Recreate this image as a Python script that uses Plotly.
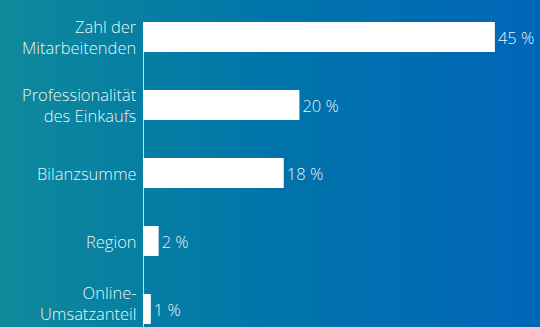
import base64, struct, zlib
import plotly.graph_objects as go

categories = ["Zahl der<br>Mitarbeitenden", "Professionalität<br>des Einkaufs", "Bilanzsumme", "Region", "Online-<br>Umsatzanteil"]
values = [45, 20, 18, 2, 1]
labels = ["45 %", "20 %", "18 %", "2 %", "1 %"]

W, H = 540, 327
L = 143

# gradient background image (style only)
stops = [(0.0, (14, 138, 155)), (0.5, (0, 116, 170)), (1.0, (0, 102, 184))]
def col(t):
    for (t0, c0), (t1, c1) in zip(stops, stops[1:]):
        if t <= t1:
            f = (t - t0) / (t1 - t0)
            return tuple(round(a + (b - a) * f) for a, b in zip(c0, c1))
    return stops[-1][1]
row = b"\x00" + b"".join(bytes(col(i / (W - 1))) for i in range(W))
def chunk(tag, data):
    return struct.pack(">I", len(data)) + tag + data + struct.pack(">I", zlib.crc32(tag + data) & 0xffffffff)
png = b"\x89PNG\r\n\x1a\n" + chunk(b"IHDR", struct.pack(">IIBBBBB", W, 1, 8, 2, 0, 0, 0)) + chunk(b"IDAT", zlib.compress(row)) + chunk(b"IEND", b"")
uri = "data:image/png;base64," + base64.b64encode(png).decode()

pw = W - L
px_per = 7.82
xmax = pw / px_per
ystep = 68
top = -37 / ystep
bottom = top + H / ystep

font = dict(family="Open Sans", size=16.5, color="rgba(255,255,255,0.95)", weight=300)

ypos = list(range(len(categories)))
fig = go.Figure(go.Bar(
    x=values, y=ypos, orientation="h",
    marker=dict(color="white", line=dict(width=0)), width=0.44,
    text=labels, textposition="outside", textfont=font, cliponaxis=False,
))

annotations = [dict(x=0, y=i, xref="x", yref="y", text=cat, showarrow=False, align="right",
                    xanchor="right", yanchor="middle", xshift=-4,
                    yshift=6 if i == len(categories) - 1 else 0, font=font)
               for i, cat in enumerate(categories)]

fig.update_layout(
    width=W, height=H, margin=dict(l=L, r=0, t=0, b=0),
    paper_bgcolor="rgba(0,0,0,0)", plot_bgcolor="rgba(0,0,0,0)",
    showlegend=False, font=font, annotations=annotations,
    images=[dict(source=uri, xref="paper", yref="paper", x=-L / pw, y=1, sizex=W / pw, sizey=1,
                 sizing="stretch", xanchor="left", yanchor="top", layer="below")],
    shapes=[dict(type="line", xref="x", yref="y", x0=0, x1=0, y0=-0.22, y1=bottom,
                 line=dict(color="white", width=1.5))],
)
fig.update_xaxes(range=[0, xmax], visible=False, automargin=False)
fig.update_yaxes(range=[bottom, top], showticklabels=False, showgrid=False, zeroline=False,
                 showline=False, ticks="", automargin=False)
fig.write_html("out.html")
